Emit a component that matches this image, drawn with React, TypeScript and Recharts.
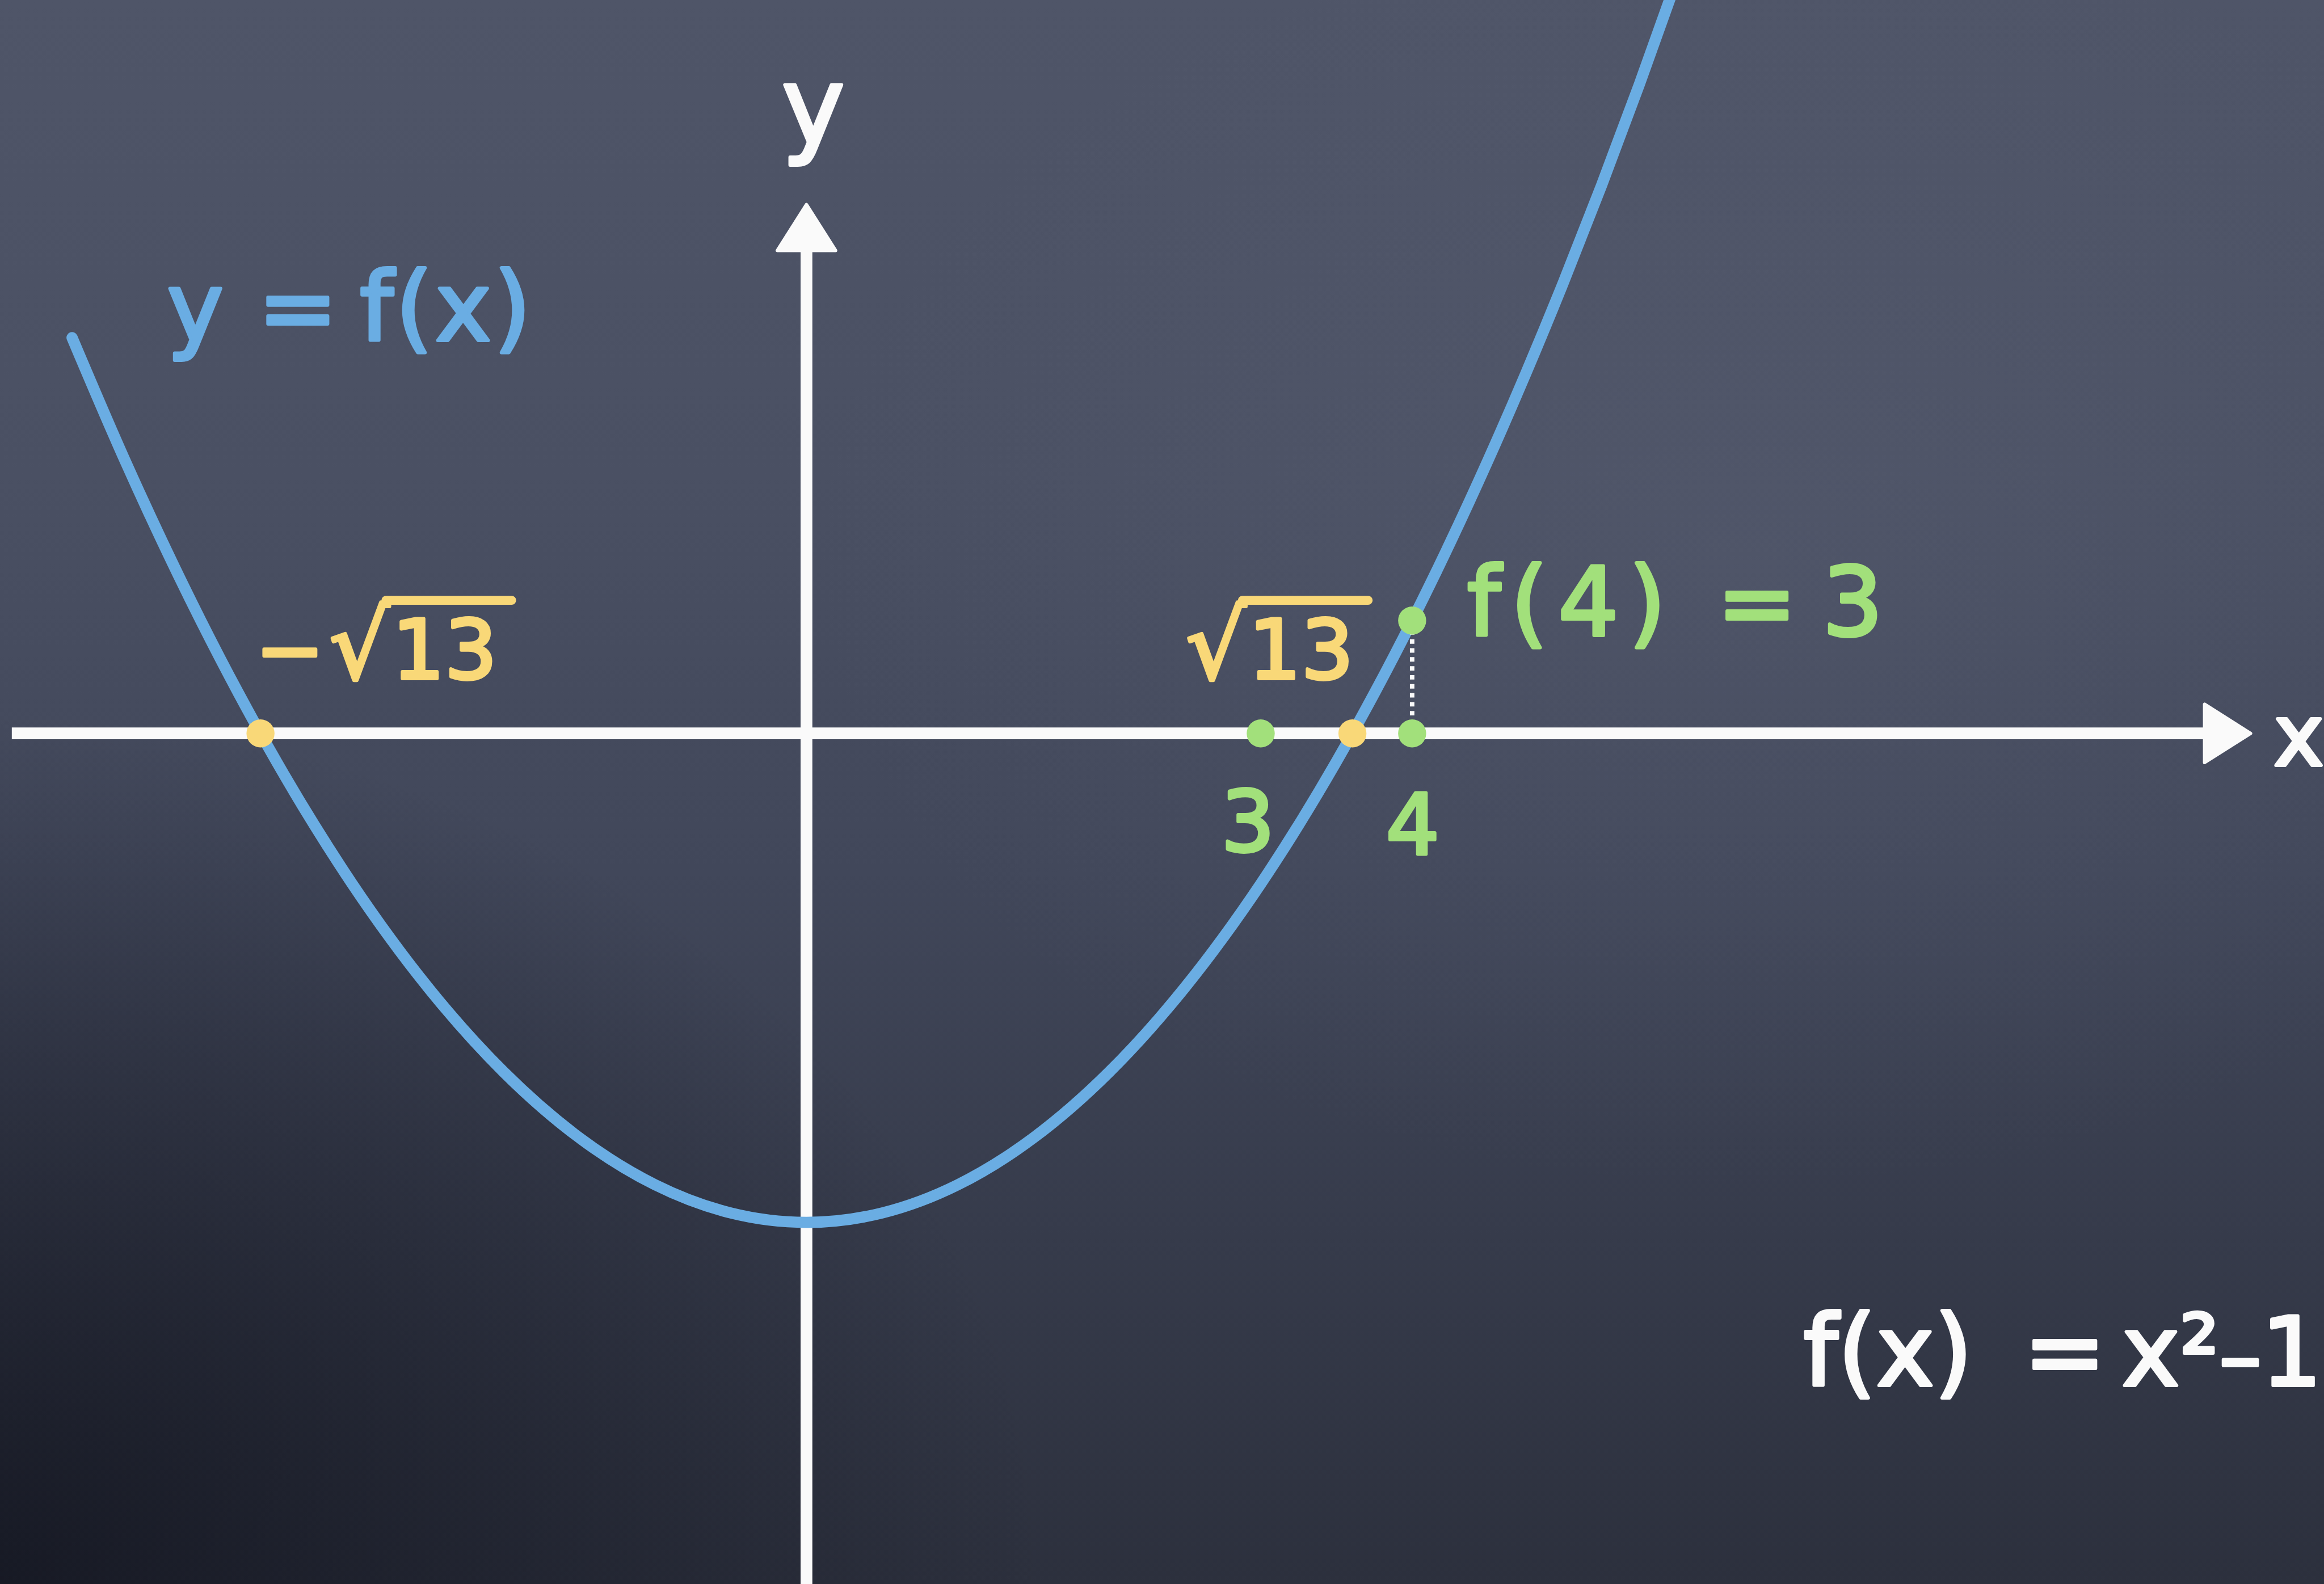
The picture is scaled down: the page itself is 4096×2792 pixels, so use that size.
import React from 'react';
import { LineChart, Line, XAxis, YAxis, ReferenceLine, ReferenceDot } from 'recharts';

// Board size and a helper that turns design units into pixels
const S = 0.988;
const W = 4096;
const H = 2792;
const px = (v: number) => v * S;

const BLUE = '#6aade3';
const YELLOW = '#f9d878';
const GREEN = '#a2e07b';
const CHALK = '#fafafa';
const FONT = '"DejaVu Sans", Verdana, sans-serif';

// f(x) = x² − 13, sampled along the drawn stretch of the parabola
const curveX = [
  -4.85, -4.5, -4.25, -4, -3.75, -3.5, -3.25, -3, -2.5, -2, -1.5, -1, -0.5, 0,
  0.5, 1, 1.5, 2, 2.5, 3, 3.25, 3.5, 3.75, 4, 4.25, 4.5, 4.75, 5, 5.25, 5.5, 5.75, 5.9,
];
const curveY = [
  10.5225, 7.25, 5.0625, 3, 1.0625, -0.75, -2.4375, -4, -6.75, -9, -10.75, -12, -12.75, -13,
  -12.75, -12, -10.75, -9, -6.75, -4, -2.4375, -0.75, 1.0625, 3, 5.0625, 7.25, 9.5625, 12, 14.5625, 17.25, 20.0625, 21.81,
];
const curveData = curveX.map((x, i) => ({ x, y: curveY[i] }));

// Roots ±√13, the marked x values 3 and 4, and the point (4, f(4))
const rootXs = [-3.6056, 3.6056];
const tickXs = [3, 4];
const markPoint = { x: 4, y: 3 };

// Visible window of the plane and the drawn extent of both axes
const xDomain = [-5.326, 10.022];
const yDomain = [-22.615, 19.499];
const xAxisSpan = [-5.248, 9.3];
const xAxisTip = 9.537;
const yAxisSpan = [-22.615, 13.0];
const yAxisTip = 14.06;

const textStroke = (c: string, w = 6) => ({ fill: c, stroke: c, strokeWidth: px(w), strokeLinejoin: 'round' as const });

const ArrowRight = (props: any) => {
  const { cx, cy } = props;
  return (
    <g>
      <path
        d={`M${cx},${cy} L${cx - px(82)},${cy - px(52)} L${cx - px(82)},${cy + px(52)} Z`}
        fill={CHALK}
        stroke={CHALK}
        strokeWidth={px(6)}
        strokeLinejoin="round"
      />
      <text x={cx + px(41)} y={cy + px(57)} fontSize={px(152)} fontFamily={FONT} {...textStroke(CHALK)}>
        x
      </text>
    </g>
  );
};

const ArrowUp = (props: any) => {
  const { cx, cy } = props;
  return (
    <g>
      <path
        d={`M${cx},${cy} L${cx - px(52)},${cy + px(82)} L${cx + px(52)},${cy + px(82)} Z`}
        fill={CHALK}
        stroke={CHALK}
        strokeWidth={px(6)}
        strokeLinejoin="round"
      />
      <text x={cx + px(12)} y={cy - px(110)} fontSize={px(190)} fontFamily={FONT} textAnchor="middle" {...textStroke(CHALK)}>
        y
      </text>
    </g>
  );
};

// Root label: optional minus, radical sign, 13 and the bar over it
const RootLabel = ({ cx, cy, negative }: { cx: number; cy: number; negative: boolean }) => {
  const x0 = negative ? cx + px(123) : cx - px(297);
  const base = cy - px(98);
  const fs = px(147);
  const rs = px(168);
  const barY = base - rs * 0.83;
  return (
    <g>
      <text y={base} fontSize={fs} fontFamily={FONT} {...textStroke(YELLOW)}>
        {negative && <tspan x={cx - px(9)}>−</tspan>}
        <tspan x={x0} fontSize={rs}>√</tspan>
        <tspan x={x0 + px(112)}>13</tspan>
      </text>
      <line
        x1={x0 + rs * 0.6}
        y1={barY}
        x2={x0 + px(325)}
        y2={barY}
        stroke={YELLOW}
        strokeWidth={px(16)}
        strokeLinecap="round"
      />
    </g>
  );
};

const rootDot = (negative: boolean) => (props: any) => {
  const { cx, cy } = props;
  return (
    <g>
      <circle cx={cx} cy={cy} r={px(25)} fill={YELLOW} />
      <RootLabel cx={cx} cy={cy} negative={negative} />
    </g>
  );
};

const tickDot = (label: string, dx: number, dy: number) => (props: any) => {
  const { cx, cy } = props;
  return (
    <g>
      <circle cx={cx} cy={cy} r={px(25)} fill={GREEN} />
      <text x={cx + px(dx)} y={cy + px(dy)} fontSize={px(150)} fontFamily={FONT} textAnchor="middle" {...textStroke(GREEN)}>
        {label}
      </text>
    </g>
  );
};

const MarkDot = (props: any) => {
  const { cx, cy } = props;
  const base = cy + px(26);
  return (
    <g>
      <circle cx={cx} cy={cy} r={px(25)} fill={GREEN} />
      <text y={base} fontSize={px(170)} fontFamily={FONT} {...textStroke(GREEN)}>
        <tspan x={cx + px(98)} letterSpacing={px(18)}>{'f(4) '}</tspan>
        <tspan x={cx + px(544)}>{'= '}</tspan>
        <tspan x={cx + px(732)}>3</tspan>
      </text>
    </g>
  );
};

export default function App() {
  return (
    <div
      style={{
        position: 'absolute',
        left: 0,
        top: 0,
        width: W,
        height: H,
        overflow: 'hidden',
        background:
          'radial-gradient(ellipse 45% 55% at 0% 100%, rgba(14,16,26,0.7), rgba(14,16,26,0) 100%),' +
          'radial-gradient(ellipse 40% 40% at 75% 35%, rgba(100,106,126,0.25), rgba(100,106,126,0) 100%),' +
          'linear-gradient(180deg, #4f5568 0%, #4a5063 30%, #41475a 55%, #363b4b 78%, #2c303d 100%)',
      }}
    >
      <LineChart width={W} height={H} data={curveData} margin={{ top: 0, right: 0, bottom: 0, left: 0 }}>
        <XAxis type="number" dataKey="x" domain={xDomain} allowDataOverflow hide />
        <YAxis type="number" domain={yDomain} allowDataOverflow hide />

        {/* axes */}
        <ReferenceLine
          segment={[{ x: xAxisSpan[0], y: 0 }, { x: xAxisSpan[1], y: 0 }]}
          stroke={CHALK}
          strokeWidth={px(21)}
          ifOverflow="visible"
        />
        <ReferenceLine
          segment={[{ x: 0, y: yAxisSpan[0] }, { x: 0, y: yAxisSpan[1] }]}
          stroke={CHALK}
          strokeWidth={px(21)}
          ifOverflow="visible"
        />
        <ReferenceDot x={xAxisTip} y={0} r={1} shape={ArrowRight} ifOverflow="visible" />
        <ReferenceDot x={0} y={yAxisTip} r={1} shape={ArrowUp} ifOverflow="visible" />

        {/* the parabola */}
        <Line
          type="monotone"
          dataKey="y"
          stroke={BLUE}
          strokeWidth={px(20)}
          strokeLinecap="round"
          dot={false}
          activeDot={false}
          isAnimationActive={false}
        />

        {/* drop line from (4, f(4)) to the x-axis */}
        <ReferenceLine
          segment={[{ x: markPoint.x, y: 0 }, { x: markPoint.x, y: markPoint.y }]}
          stroke={CHALK}
          strokeWidth={px(8)}
          strokeDasharray={`${px(8)} ${px(8)}`}
          ifOverflow="visible"
        />

        <ReferenceDot x={rootXs[0]} y={0} r={px(25)} shape={rootDot(true)} ifOverflow="visible" />
        <ReferenceDot x={rootXs[1]} y={0} r={px(25)} shape={rootDot(false)} ifOverflow="visible" />
        <ReferenceDot x={tickXs[0]} y={0} r={px(25)} shape={tickDot('3', -23, 210)} ifOverflow="visible" />
        <ReferenceDot x={tickXs[1]} y={0} r={px(25)} shape={tickDot('4', 1, 215)} ifOverflow="visible" />
        <ReferenceDot x={markPoint.x} y={markPoint.y} r={px(25)} shape={MarkDot} ifOverflow="visible" />

        {/* curve name and the formula */}
        <text y={px(607)} fontSize={px(170)} fontFamily={FONT} {...textStroke(BLUE)}>
          <tspan x={px(298)}>{'y '}</tspan>
          <tspan x={px(460)}>{'= '}</tspan>
          <tspan x={px(642)} letterSpacing={px(4)}>f(x)</tspan>
        </text>
        <text y={px(2472)} fontSize={px(175)} fontFamily={FONT} {...textStroke(CHALK)}>
          <tspan x={px(3217)}>{'f(x) '}</tspan>
          <tspan x={px(3610)}>=</tspan>
          <tspan x={px(3785)}>x²</tspan>
          <tspan x={px(3959)} fontSize={px(150)}>–</tspan>
          <tspan x={px(4034)} fontSize={px(170)}>1</tspan>
        </text>
      </LineChart>
    </div>
  );
}
